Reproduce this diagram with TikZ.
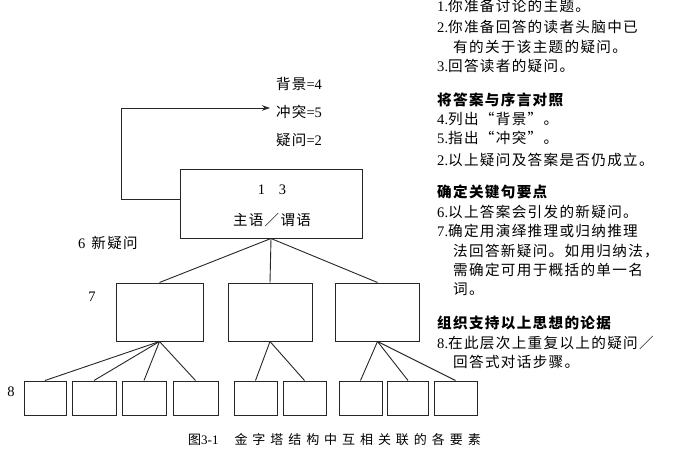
\documentclass[tikz,border=0pt]{standalone}
\usepackage{fontspec}
\setmainfont{Liberation Serif}
\newfontfamily\cjk{Noto Sans CJK SC}[LetterSpace=9]
\newfontfamily\cjkcap{Noto Sans CJK SC}[LetterSpace=38]
\usetikzlibrary{arrows.meta}
\tikzset{
  box/.style={draw=black!85, line width=1pt, minimum width=#1, inner sep=0pt},
  link/.style={draw=black!85, line width=0.9pt},
  txt/.style={font=\fontsize{14.6}{16}\selectfont, inner sep=0pt, anchor=west},
  lbl/.style={font=\fontsize{14.5}{16}\selectfont, inner sep=0pt},
}
\begin{document}
\begin{tikzpicture}[x=1pt,y=-1pt]
\useasboundingbox[fill=white] (0,0) rectangle (700,470);

% top box
\node[box=182pt, minimum height=68pt] (top) at (271,204) {};
\node[lbl] (n13) at (272,190) {1\hspace{14pt}3};
\node[lbl] (sp) at (272,220) {\cjk 主语／谓语};

% labels above
\node[lbl, anchor=west] (bg) at (276,84) {{\cjk 背景}=4};
\node[lbl, anchor=west] (ct) at (276,112) {{\cjk 冲突}=5};
\node[lbl, anchor=west] (yw) at (276,140) {{\cjk 疑问}=2};
\coordinate (corner) at (121,108);
\coordinate (tip) at (270,108);
\draw[link, -{Stealth[length=8pt,width=5.5pt]}] ([yshift=5pt]top.west) -| (corner) -- (tip);

\node[lbl, anchor=west] (new6) at (78,243) {6\hspace{6pt}{\cjk 新疑问}};
\node[lbl] (l7) at (92,297) {7};
\node[lbl] (l8) at (11,392) {8};

% middle boxes
\node[box=87pt, minimum height=58pt] (m1) at (159.5,312) {};
\node[box=84pt, minimum height=58pt] (m2) at (270,312) {};
\node[box=84pt, minimum height=58pt] (m3) at (377.5,312) {};
\foreach \m in {m1,m2,m3} \draw[link] (top.south) -- (\m.north);

% bottom boxes
\foreach \n/\x/\w in {b1/45/42, b2/94/44, b3/144/44, b4/195.5/45, b5/255.5/43, b6/304.5/43, b7/360.5/43, b8/408/41, b9/455.5/43}
  \node[box=\w pt, minimum height=34pt] (\n) at (\x,398) {};
\foreach \b in {b1,b2,b3,b4} \draw[link] (m1.south) -- (\b.north);
\foreach \b in {b5,b6} \draw[link] (m2.south) -- (\b.north);
\foreach \b in {b7,b8,b9} \draw[link] (m3.south) -- (\b.north);

% caption
\node[lbl, anchor=west, font=\fontsize{13}{14}\selectfont] (cap) at (188,440) {{\cjk 图}3-1\hspace{16pt}{\cjkcap 金字塔结构中互相关联的各要素}};

% right column text
\node[txt] (t1) at (437,6) {1.{\cjk 你准备讨论的主题。}};
\node[txt] (t2) at (437,27) {2.{\cjk 你准备回答的读者头脑中已}};
\node[txt] (t2b) at (453,47) {\cjk 有的关于该主题的疑问。};
\node[txt] (t3) at (437,66) {3.{\cjk 回答读者的疑问。}};
\node[txt] (h1) at (437,100) {\cjk\bfseries 将答案与序言对照};
\node[txt] (t4) at (437,119) {4.{\cjk 列出“背景”。}};
\node[txt] (t5) at (437,138) {5.{\cjk 指出“冲突”。}};
\node[txt] (t2c) at (437,160) {2.{\cjk 以上疑问及答案是否仍成立。}};
\node[txt] (h2) at (437,192) {\cjk\bfseries 确定关键句要点};
\node[txt] (t6) at (437,212) {6.{\cjk 以上答案会引发的新疑问。}};
\node[txt] (t7) at (437,231) {7.{\cjk 确定用演绎推理或归纳推理}};
\node[txt] (t7b) at (453,251) {\cjk 法回答新疑问。如用归纳法，};
\node[txt] (t7c) at (453,270) {\cjk 需确定可用于概括的单一名};
\node[txt] (t7d) at (453,289) {\cjk 词。};
\node[txt] (h3) at (437,323) {\cjk\bfseries 组织支持以上思想的论据};
\node[txt] (t8) at (437,343) {8.{\cjk 在此层次上重复以上的疑问／}};
\node[txt] (t8b) at (453,362) {\cjk 回答式对话步骤。};
\end{tikzpicture}
\end{document}
